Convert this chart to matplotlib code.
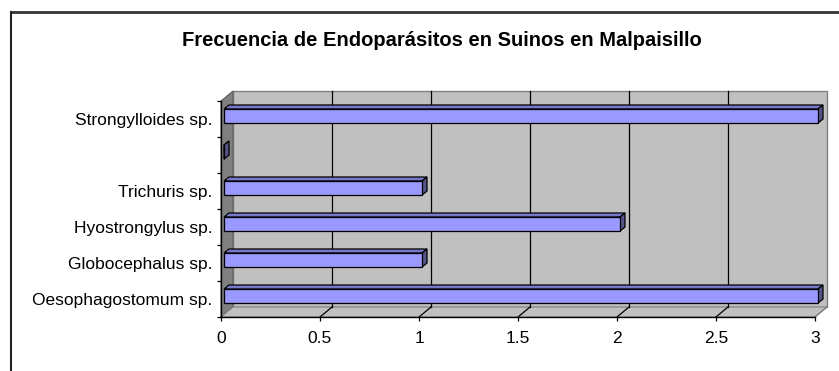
import matplotlib
matplotlib.use("Agg")
import matplotlib.pyplot as plt
from matplotlib.patches import Polygon
from matplotlib.lines import Line2D

plt.rcParams['font.family'] = ['Liberation Sans', 'DejaVu Sans']

# Data
categories = ["Oesophagostomum sp.", "Globocephalus sp.", "Hyostrongylus sp.",
              "Trichuris sp.", "", "Strongylloides sp."]
values = [3, 1, 2, 1, 0, 3]
xticks = [0, 0.5, 1, 1.5, 2, 2.5, 3]
xtick_labels = ["0", "0.5", "1", "1.5", "2", "2.5", "3"]
title = "Frecuencia de Endoparásitos en Suinos en Malpaisillo"

W, H, DPI = 839, 371, 100
fig = plt.figure(figsize=(W / DPI, H / DPI), dpi=DPI)
fig.patch.set_facecolor("white")

# front plane of the 3-D plot area (pixel geometry)
x0_px, x1_px, yb_px, yt_px = 221, 815, 317, 101
ax = fig.add_axes([x0_px / W, (H - yb_px) / H, (x1_px - x0_px) / W, (yb_px - yt_px) / H])
xmax = 3
n = len(categories)
ax.set_xlim(0, xmax)
ax.set_ylim(-0.5, n - 0.5)
ax.set_facecolor("none")

kx = (x1_px - x0_px) / xmax        # px per x unit
ky = (yb_px - yt_px) / n           # px per category

# depth of walls
dxw, dyw = 12 / kx, 10 / ky
ylo, yhi = -0.5, n - 0.5

# back wall
ax.add_patch(Polygon([(dxw, ylo + dyw), (xmax + dxw, ylo + dyw), (xmax + dxw, yhi + dyw), (dxw, yhi + dyw)],
                     closed=True, facecolor="#c0c0c0", edgecolor="#808080", lw=1, zorder=0.5, clip_on=False))
# side wall
ax.add_patch(Polygon([(0, ylo), (0, yhi), (dxw, yhi + dyw), (dxw, ylo + dyw)],
                     closed=True, facecolor="#808080", edgecolor="#606060", lw=0.8, zorder=0.6, clip_on=False))
# floor
ax.add_patch(Polygon([(0, ylo), (xmax, ylo), (xmax + dxw, ylo + dyw), (dxw, ylo + dyw)],
                     closed=True, facecolor="#c0c0c0", edgecolor="#808080", lw=0.8, zorder=0.6, clip_on=False))

# gridlines on back wall and floor
for xv in xticks[1:]:
    if xv < xmax:
        ax.plot([xv + dxw, xv + dxw], [ylo + dyw, yhi + dyw], color="black", lw=0.9, zorder=0.8, clip_on=False)
    ax.plot([xv, xv + dxw], [ylo, ylo + dyw], color="black" if xv < xmax else "#808080",
            lw=0.9, zorder=0.8, clip_on=False)

# bars with 3-D faces
fx, fy = 3 / kx, 3 / ky           # front-face shift
dx, dy = 5 / kx, 4 / ky           # bar depth
bh = 14 / ky
ypos = list(range(n))
ax.barh([y + fy for y in ypos], values, left=fx, height=bh, color="#9999ff",
        edgecolor="black", lw=0.9, zorder=3, clip_on=False)
for y, v in zip(ypos, values):
    top = y + fy + bh / 2
    bot = y + fy - bh / 2
    right = fx + v
    ax.add_patch(Polygon([(fx, top), (right, top), (right + dx, top + dy), (fx + dx, top + dy)],
                         closed=True, facecolor="#7777cc", edgecolor="black", lw=0.9, zorder=2.9, clip_on=False))
    ax.add_patch(Polygon([(right, bot), (right + dx, bot + dy), (right + dx, top + dy), (right, top)],
                         closed=True, facecolor="#55558a", edgecolor="black", lw=0.9, zorder=2.9, clip_on=False))

# axes styling
for s in ("top", "right"):
    ax.spines[s].set_visible(False)
for s in ("left", "bottom"):
    ax.spines[s].set_color("black")
    ax.spines[s].set_linewidth(1)
    ax.spines[s].set_zorder(1)

ax.set_xticks(xticks)
ax.set_xticklabels(xtick_labels)
ax.tick_params(axis="x", direction="out", length=3, width=0.9, color="black", pad=7, labelsize=12.5)

ax.set_yticks(ypos)
ax.set_yticklabels(categories, fontsize=12.5)
for lbl in ax.get_yticklabels():
    lbl.set_fontstretch("condensed")
ax.set_yticks([y - 0.5 for y in range(n + 1)], minor=True)
ax.tick_params(axis="y", which="major", length=0, pad=6)
ax.tick_params(axis="y", which="minor", direction="out", length=3, width=0.9, color="black")

# title
fig.text(442 / W, 1 - 40 / H, title, ha="center", va="center", fontsize=14.5, fontweight="bold")

# chart frame
fig.add_artist(Line2D([11 / W, 1], [1 - 12 / H, 1 - 12 / H], transform=fig.transFigure, color="#333333", lw=2))
fig.add_artist(Line2D([11 / W, 11 / W], [0, 1 - 12 / H], transform=fig.transFigure, color="#222222", lw=1.5))

fig.savefig("out.png", dpi=DPI)
